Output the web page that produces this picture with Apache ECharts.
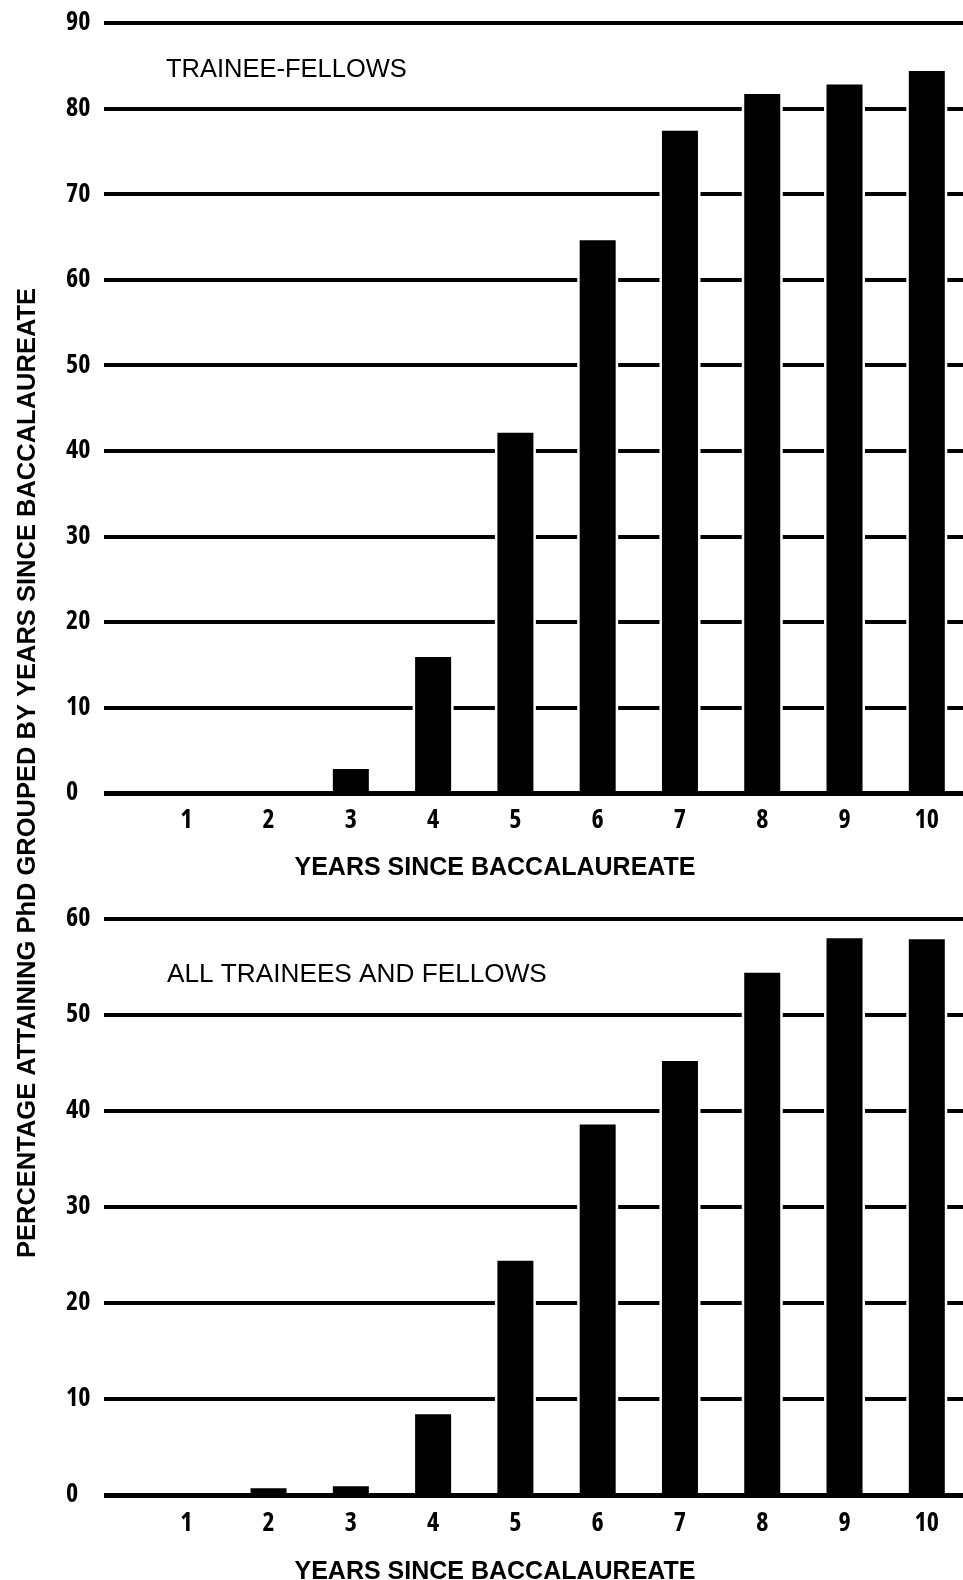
<!DOCTYPE html>
<html>
<head>
<meta charset="utf-8">
<script src="https://cdn.jsdelivr.net/npm/echarts@6/dist/echarts.min.js"></script>
<style>
  html, body { margin: 0; padding: 0; background: #fff; }
  #chart { width: 963px; height: 1580px; }
</style>
</head>
<body>
<div id="chart"></div>
<script>
// ---- data ----
var years = [1, 2, 3, 4, 5, 6, 7, 8, 9, 10];
var traineeFellows = [0, 0, 2.8, 15.9, 42.1, 64.6, 77.4, 81.7, 82.8, 84.4];
var allTraineesFellows = [0, 0.7, 0.9, 8.4, 24.4, 38.6, 45.2, 54.4, 58.0, 57.9];
var topTitle = 'TRAINEE-FELLOWS';
var bottomTitle = 'ALL TRAINEES AND FELLOWS';
var xTitle = 'YEARS SINCE BACCALAUREATE';
var yTitle = 'PERCENTAGE ATTAINING PhD GROUPED BY YEARS SINCE BACCALAUREATE';
var topMax = 90, bottomMax = 60, yStep = 10;
var xMin = 0, xMax = 10.44;

// ---- chart ----
var narrow = '"Open Sans", "DejaVu Sans Condensed", sans-serif';
var sans = '"Liberation Sans", Arial, Helvetica, sans-serif';

function pairs(vals) { return years.map(function (y, i) { return [y, vals[i]]; }); }

function xAxisDef(gridIndex, hidden, labelMargin, nameGap) {
  var ax = {
    type: 'value', gridIndex: gridIndex, min: xMin, max: xMax, interval: 1,
    axisLine: { show: false }, axisTick: { show: false }, splitLine: { show: false }
  };
  if (hidden) { ax.show = false; return ax; }
  ax.axisLabel = {
    color: '#000', fontFamily: narrow, fontWeight: 'bold condensed', fontSize: 26, margin: labelMargin,
    formatter: function (v) { return years.indexOf(v) >= 0 ? String(v) : ''; }
  };
  ax.name = xTitle; ax.nameLocation = 'middle'; ax.nameGap = nameGap;
  ax.nameTextStyle = { color: '#000', fontFamily: sans, fontWeight: 'bold', fontSize: 25, padding: [0, 77, 0, 0] };
  return ax;
}
function yAxisDef(gridIndex, max) {
  return {
    type: 'value', gridIndex: gridIndex, min: 0, max: max, interval: yStep,
    axisLine: { show: false }, axisTick: { show: false },
    splitLine: { show: true, lineStyle: { color: '#000', width: 4 } },
    axisLabel: { color: '#000', fontFamily: narrow, fontWeight: 'bold condensed', fontSize: 26, margin: 38, align: 'left' }
  };
}
// white halo behind each bar (gives the small gap where grid lines meet the bars)
function haloSeries(xIdx, yIdx, vals) {
  return {
    type: 'bar', xAxisIndex: xIdx, yAxisIndex: yIdx, data: pairs(vals), barWidth: 41,
    itemStyle: { color: '#fff' }, silent: true, z: 2
  };
}
function barSeries(xIdx, yIdx, vals) {
  return {
    type: 'bar', xAxisIndex: xIdx, yAxisIndex: yIdx, data: pairs(vals), barWidth: 36,
    itemStyle: { color: '#000' }, silent: true, z: 3,
    markLine: {
      silent: true, symbol: ['none', 'none'], label: { show: false },
      lineStyle: { color: '#000', width: 5, type: 'solid' },
      data: [{ yAxis: 0 }]
    }
  };
}

var chart = echarts.init(document.getElementById('chart'), null, { renderer: 'canvas' });
chart.setOption({
  backgroundColor: '#fff',
  animation: false,
  grid: [
    { left: 104, right: 0, top: 23, height: 770, containLabel: false, outerBoundsMode: 'none' },
    { left: 104, right: 0, top: 919, height: 576, containLabel: false, outerBoundsMode: 'none' }
  ],
  xAxis: [xAxisDef(0, false, 15, 63), xAxisDef(1, false, 16, 65), xAxisDef(0, true), xAxisDef(1, true)],
  yAxis: [yAxisDef(0, topMax), yAxisDef(1, bottomMax)],
  series: [
    haloSeries(2, 0, traineeFellows), barSeries(0, 0, traineeFellows),
    haloSeries(3, 1, allTraineesFellows), barSeries(1, 1, allTraineesFellows)
  ],
  graphic: [
    { type: 'text', left: 166, top: 57, style: { text: topTitle, fill: '#000', font: '25.5px ' + sans } },
    { type: 'text', left: 167, top: 962, style: { text: bottomTitle, fill: '#000', font: '26.2px ' + sans } },
    { type: 'text', x: 28, y: 773, rotation: Math.PI / 2,
      style: { text: yTitle, fill: '#000', font: 'bold 25.5px ' + sans, textAlign: 'center', textVerticalAlign: 'middle' } }
  ]
});
</script>
</body>
</html>
